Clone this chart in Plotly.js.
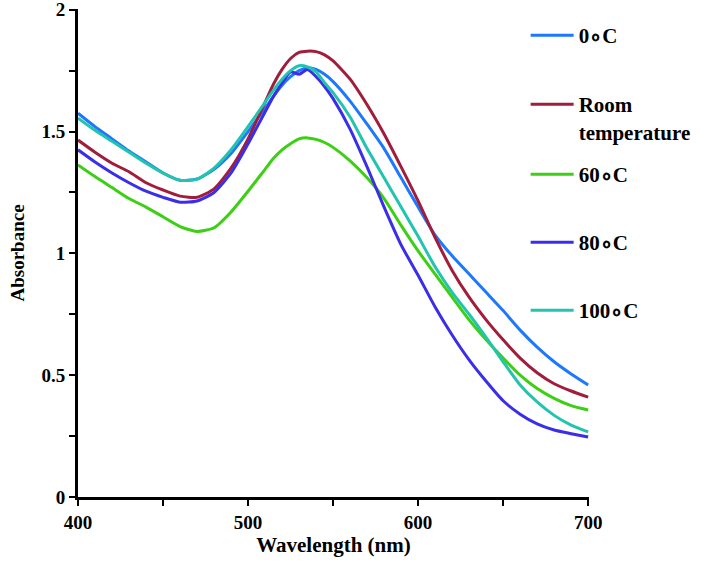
<!DOCTYPE html>
<html>
<head>
<meta charset="utf-8">
<script src="https://cdn.plot.ly/plotly-3.0.1.min.js"></script>
<style>html,body{margin:0;padding:0;background:#fff;}#chart{width:705px;height:566px;}</style>
</head>
<body>
<div id="chart"></div>
<script>
// Wavelength grid (nm)
const wavelength = [400,410,420,430,440,450,460,470,480,490,500,510,515,520,525,530,535,540,545,550,560,570,580,590,600,610,620,630,640,650,660,670,680,690,700];

// Absorbance series
const abs0C = [1.575,1.52,1.47,1.42,1.375,1.33,1.30,1.305,1.345,1.41,1.50,1.595,1.645,1.69,1.725,1.75,1.762,1.755,1.735,1.705,1.625,1.53,1.43,1.31,1.19,1.075,0.99,0.915,0.84,0.765,0.685,0.615,0.555,0.505,0.46];
const absRoom = [1.465,1.415,1.37,1.335,1.29,1.26,1.235,1.23,1.265,1.35,1.47,1.62,1.695,1.755,1.80,1.825,1.83,1.828,1.815,1.79,1.715,1.61,1.49,1.355,1.215,1.065,0.93,0.82,0.727,0.645,0.57,0.51,0.465,0.435,0.41];
const abs60C = [1.363,1.315,1.27,1.225,1.19,1.15,1.11,1.09,1.105,1.17,1.255,1.345,1.39,1.425,1.45,1.47,1.474,1.468,1.455,1.435,1.38,1.31,1.225,1.115,1.01,0.915,0.82,0.727,0.645,0.57,0.50,0.445,0.405,0.375,0.357];
const abs80C = [1.425,1.375,1.33,1.29,1.255,1.23,1.21,1.215,1.25,1.33,1.45,1.58,1.645,1.70,1.745,1.735,1.755,1.725,1.685,1.635,1.51,1.355,1.19,1.035,0.91,0.78,0.665,0.563,0.475,0.395,0.34,0.30,0.275,0.26,0.246];
const abs100C = [1.555,1.505,1.46,1.415,1.37,1.33,1.30,1.305,1.35,1.425,1.52,1.62,1.67,1.715,1.75,1.77,1.765,1.745,1.70,1.66,1.56,1.43,1.31,1.19,1.07,0.945,0.84,0.75,0.655,0.555,0.46,0.39,0.335,0.295,0.267];

const seriesNames = ['0\u2218C', 'Room<br>temperature', '60\u2218C', '80\u2218C', '100\u2218C'];
const seriesValues = [abs0C, absRoom, abs60C, abs80C, abs100C];
const seriesColors = ['#1e78ff', '#a01d3c', '#3ccf14', '#3a2ee8', '#22c4b0'];

const xTickVals = [400, 500, 600, 700];
const yTickVals = [0, 0.5, 1, 1.5, 2];
const yTickText = ['0', '0.5', '1', '1.5', '2'];

const serif = 'Liberation Serif, Times New Roman, serif';
const legendIds = ['legend', 'legend2', 'legend3', 'legend4', 'legend5'];
const legendTops = [0.9877, 0.8463, 0.7029, 0.5635, 0.4242];

const traces = seriesValues.map((vals, i) => ({
  type: 'scatter',
  mode: 'lines',
  x: wavelength,
  y: vals,
  name: seriesNames[i],
  legend: legendIds[i],
  line: {color: seriesColors[i], width: 3, shape: 'spline', smoothing: 0.6}
}));

const layout = {
  width: 705,
  height: 566,
  margin: {l: 78, r: 103, t: 9, b: 69},
  paper_bgcolor: '#ffffff',
  plot_bgcolor: '#ffffff',
  showlegend: true,
  xaxis: {
    range: [400, 700.5],
    showgrid: false, zeroline: false,
    showline: true, linecolor: '#000', linewidth: 3,
    ticks: 'outside', ticklen: 6, tickwidth: 2, tickcolor: '#000',
    tickvals: xTickVals,
    ticklabeloverflow: 'allow',
    minor: {dtick: 50, ticks: 'outside', ticklen: 6, tickwidth: 2, tickcolor: '#000'},
    tickfont: {family: serif, size: 19, color: '#000', weight: 'bold'},
    title: {text: 'Wavelength (nm)', font: {family: serif, size: 21, color: '#000', weight: 'bold'}, standoff: 6}
  },
  yaxis: {
    range: [0, 2.003],
    showgrid: false, zeroline: false,
    showline: true, linecolor: '#000', linewidth: 3,
    ticks: 'outside', ticklen: 6, tickwidth: 2, tickcolor: '#000',
    tickvals: yTickVals, ticktext: yTickText,
    ticklabeloverflow: 'allow',
    minor: {dtick: 0.25, ticks: 'outside', ticklen: 6, tickwidth: 2, tickcolor: '#000'},
    tickfont: {family: serif, size: 19, color: '#000', weight: 'bold'},
    title: {text: 'Absorbance', font: {family: serif, size: 19, color: '#000', weight: 'bold'}, standoff: 12}
  }
};

legendIds.forEach((id, i) => {
  layout[id] = {
    x: 0.876, xanchor: 'left',
    y: legendTops[i], yanchor: 'top',
    bgcolor: 'rgba(0,0,0,0)', borderwidth: 0,
    itemwidth: 43, valign: 'top',
    font: {family: serif, size: 21, color: '#000', weight: 'bold'}
  };
});

Plotly.newPlot('chart', traces, layout, {staticPlot: true, displayModeBar: false});
</script>
</body>
</html>
